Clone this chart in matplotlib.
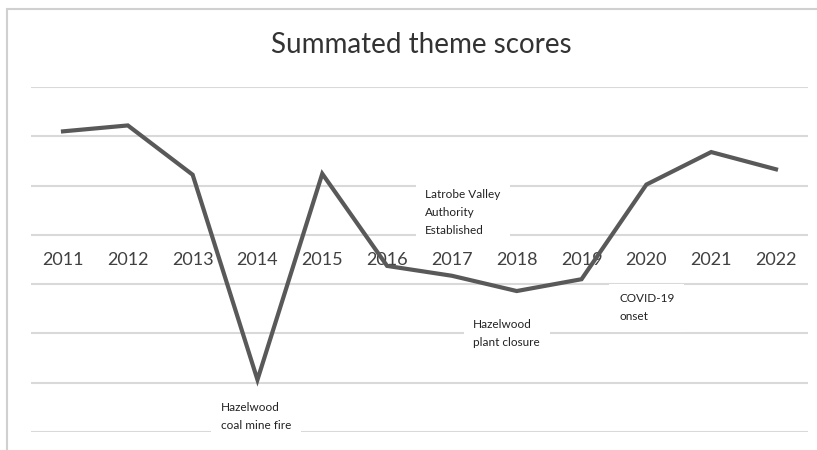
import matplotlib.pyplot as plt
from matplotlib.patches import Rectangle

years = ['2011', '2012', '2013', '2014', '2015', '2016',
         '2017', '2018', '2019', '2020', '2021', '2022']
scores = [2.10, 2.22, 1.22, -2.94, 1.24, -0.63,
          -0.83, -1.14, -0.90, 1.02, 1.68, 1.33]

events = ['Hazelwood\ncoal mine fire', 'Latrobe Valley\nAuthority\nEstablished',
          'Hazelwood\nplant closure', 'COVID-19\nonset']
event_x = [2.44, 5.59, 6.33, 8.58]
event_y = [-3.69, 0.45, -2.0, -1.48]

plt.rcParams['font.family'] = ['Lato', 'DejaVu Sans']

fig = plt.figure(figsize=(8.17, 4.5), dpi=100)
ax = fig.add_axes([30.6 / 817, 18 / 450, 777.8 / 817, 345 / 450])

x = list(range(len(years)))
ax.plot(x, scores, color='#595959', lw=3, solid_joinstyle='miter', zorder=4)

ax.set_xlim(-0.5, len(years) - 0.5)
ax.set_ylim(-4, 3)
ax.set_yticks(range(-4, 4))
ax.yaxis.grid(True, color='#d9d9d9', lw=1.5)
ax.set_axisbelow(True)
ax.tick_params(axis='y', left=False, labelleft=False)
for s in ax.spines.values():
    s.set_visible(False)

ax.spines['bottom'].set_position(('data', 0))
ax.set_xticks(x)
ax.set_xticklabels(years, fontsize=13, color='#404040')
ax.tick_params(axis='x', length=0, pad=12.5)

for txt, ex, ey in zip(events, event_x, event_y):
    t = ax.text(ex, ey, txt, fontsize=8.5, color='#222222', ha='left', va='center',
                linespacing=1.75, zorder=3,
                bbox=dict(facecolor='white', edgecolor='none', pad=7))

fig.text(421 / 817, 1 - 45 / 450, 'Summated theme scores', ha='center', va='center',
         fontsize=20, color='#333333')

fig.patches.append(Rectangle((7 / 817, -0.1), 1.2, 1 - 9 / 450 + 0.1,
                             transform=fig.transFigure, fill=False,
                             edgecolor='#d0d0d0', lw=1.5))

plt.savefig('out.png', dpi=100)
